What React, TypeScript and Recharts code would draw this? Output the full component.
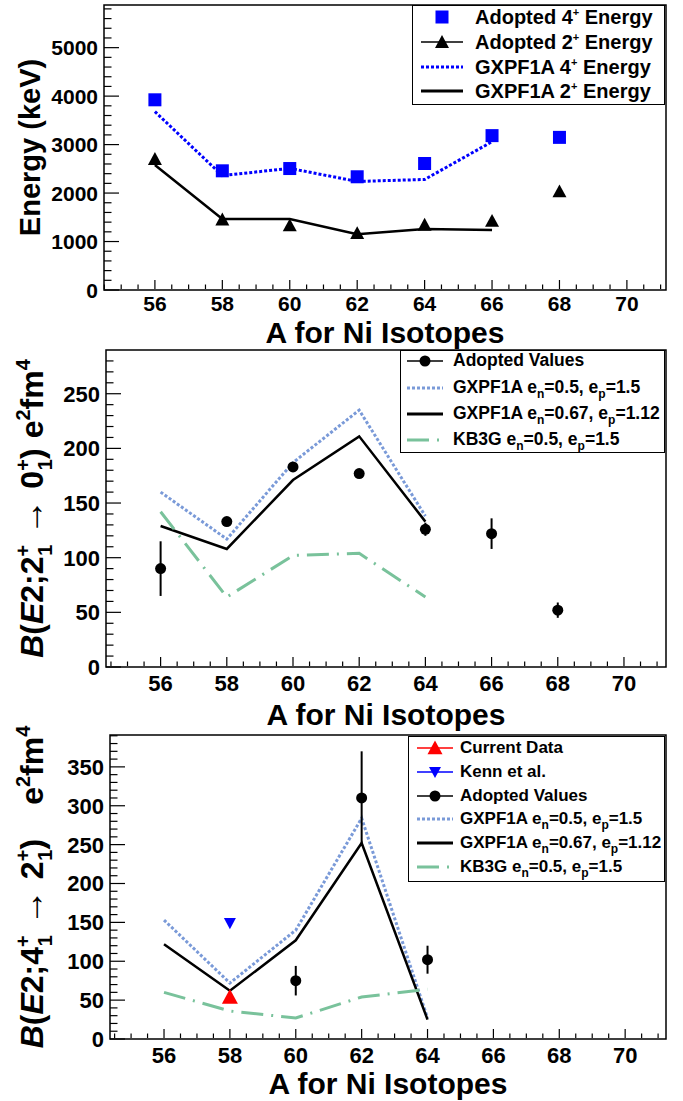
import React from 'react'
import {
  ComposedChart,
  Line,
  Scatter,
  XAxis,
  YAxis,
  ErrorBar,
  ReferenceArea,
  Label,
} from 'recharts'

const FONT = '"Liberation Sans", Arial, Helvetica, sans-serif'

// mass numbers
const A_ALL = [56, 58, 60, 62, 64, 66, 68]
const A_CALC = [56, 58, 60, 62, 64]
const A_CALC_E = [56, 58, 60, 62, 64, 66]
const X_LABELS = [56, 58, 60, 62, 64, 66, 68, 70]

// panel 1: level energies (keV)
const ADOPTED_4 = [3924, 2459, 2506, 2336, 2610, 3185, 3149]
const ADOPTED_2 = [2701, 1454, 1333, 1173, 1346, 1425, 2033]
const GXPF1A_4 = [3680, 2360, 2510, 2240, 2280, 3060]
const GXPF1A_2 = [2580, 1465, 1465, 1150, 1260, 1240]
const E_LABELS = [0, 1000, 2000, 3000, 4000, 5000]

// panel 2: B(E2; 2+ -> 0+)
const BE2_20 = [90, 133, 183, 177, 126, 122, 52]
const BE2_20_ERR = [25, 4, 4, 4, 6, 14, 7]
const GX05_20 = [160, 117, 187, 235, 138]
const GX067_20 = [129, 108, 171, 211, 133]
const KB3G_20 = [142, 64, 102, 104, 64]
const B20_LABELS = [0, 50, 100, 150, 200, 250]

// panel 3: B(E2; 4+ -> 2+)
const A_CURRENT = [58]
const CURRENT_42 = [54]
const A_KENN = [58]
const KENN_42 = [149]
const A_ADOPTED_42 = [60, 62, 64]
const ADOPTED_42 = [75, 310, 102]
const ADOPTED_42_ERR = [19, 60, 18]
const GX05_42 = [153, 72, 140, 284, 27]
const GX067_42 = [122, 62, 127, 252, 25]
const KB3G_42 = [60, 36, 27, 54, 64]
const B42_LABELS = [0, 50, 100, 150, 200, 250, 300, 350]

const LIGHT_BLUE = '#7a9ad8'
const GREEN = '#79c29b'
const KB_DASH = '22 8 2 8'

function zip(xs: number[], ys: number[], errs?: number[]) {
  return xs.map((a, i) => ({ a, v: ys[i], err: errs ? errs[i] : 0 }))
}

function steps(from: number, to: number, step: number) {
  const out: number[] = []
  for (let v = from; v <= to + 1e-9; v += step) out.push(Math.round(v * 100) / 100)
  return out
}

const X_TICKS = steps(54.5, 71, 0.5)

function makeXTick(fontSize: number, dy: number) {
  return (props: any) => {
    const { x, y, payload } = props
    const major = X_LABELS.includes(payload.value)
    return (
      <g>
        <line x1={x} x2={x} y1={y - 1} y2={y - 1 - (major ? 9 : 4.5)} stroke="#000" strokeWidth={1.2} />
        {major && (
          <text x={x} y={y + dy} textAnchor="middle" fontSize={fontSize} fontWeight="bold" fontFamily={FONT} fill="#000">
            {payload.value}
          </text>
        )}
      </g>
    )
  }
}

function makeYTick(labels: number[], fontSize: number) {
  return (props: any) => {
    const { x, y, payload } = props
    const major = labels.includes(payload.value)
    return (
      <g>
        <line x1={x} x2={x + (major ? 15 : 7.5)} y1={y} y2={y} stroke="#000" strokeWidth={1.2} />
        {major && (
          <text x={x - 6} y={y} dy="0.36em" textAnchor="end" fontSize={fontSize} fontWeight="bold" fontFamily={FONT} fill="#000">
            {payload.value}
          </text>
        )}
      </g>
    )
  }
}

function xTitle(dy: number) {
  return (p: any) => (
    <text
      x={p.viewBox.x + p.viewBox.width / 2}
      y={p.viewBox.y + dy}
      textAnchor="middle"
      fontSize={30}
      fontWeight="bold"
      fontFamily={FONT}
      fill="#000"
    >
      A for Ni Isotopes
    </text>
  )
}

function energyTitle(off: number) {
  return (p: any) => {
    const cx = p.viewBox.x - off
    const cy = p.viewBox.y + p.viewBox.height / 2
    return (
      <text x={cx} y={cy} transform={`rotate(-90 ${cx} ${cy})`} textAnchor="middle" fontSize={29} fontWeight="bold" fontFamily={FONT} fill="#000">
        Energy (keV)
      </text>
    )
  }
}

function be2Title(off: number, ji: string, jf: string, gap: number) {
  return (p: any) => {
    const cx = p.viewBox.x - off
    const cy = p.viewBox.y + p.viewBox.height / 2
    const S = 20
    return (
      <text
        x={cx}
        y={cy}
        transform={`rotate(-90 ${cx} ${cy})`}
        textAnchor="middle"
        fontSize={32}
        fontWeight="bold"
        fontFamily={FONT}
        fill="#000"
        style={{ whiteSpace: 'pre' }}
      >
        <tspan fontStyle="italic">B</tspan>
        <tspan>(</tspan>
        <tspan fontStyle="italic">E</tspan>
        <tspan>2;{ji}</tspan>
        <tspan fontSize={S} dy={-13}>+</tspan>
        <tspan fontSize={S} dx={-11} dy={22}>1</tspan>
        <tspan dy={-9} fontWeight="normal" fontSize={36}> → </tspan>
        <tspan>{jf}</tspan>
        <tspan fontSize={S} dy={-13}>+</tspan>
        <tspan fontSize={S} dx={-11} dy={22}>1</tspan>
        <tspan dy={-9}>)</tspan>
        <tspan dx={gap}>e</tspan>
        <tspan fontSize={S} dy={-13}>2</tspan>
        <tspan dy={13}>fm</tspan>
        <tspan fontSize={S} dy={-13}>4</tspan>
      </text>
    )
  }
}

const square = (color: string, s: number) => (p: any) => (
  <rect x={p.cx - s / 2} y={p.cy - s / 2} width={s} height={s} fill={color} />
)
const triUp = (color: string, w: number) => (p: any) => (
  <polygon
    points={`${p.cx - w / 2},${p.cy + w * 0.42} ${p.cx + w / 2},${p.cy + w * 0.42} ${p.cx},${p.cy - w * 0.5}`}
    fill={color}
  />
)
const triDown = (color: string, w: number) => (p: any) => (
  <polygon
    points={`${p.cx - w / 2},${p.cy - w * 0.42} ${p.cx + w / 2},${p.cy - w * 0.42} ${p.cx},${p.cy + w * 0.5}`}
    fill={color}
  />
)
const circle = (color: string, r: number) => (p: any) => <circle cx={p.cx} cy={p.cy} r={r} fill={color} />

type Row = { cy: number; sym: React.ReactNode; label: React.ReactNode }

function LegendBox(props: {
  box: [number, number, number, number]
  symX: number
  symW: number
  textX: number
  font: number
  rows: Row[]
}) {
  const { box, symX, symW, textX, font, rows } = props
  return (
    <div
      style={{
        position: 'absolute',
        left: box[0],
        top: box[1],
        width: box[2],
        height: box[3],
        border: '1.5px solid #000',
        boxSizing: 'border-box',
        background: '#fff',
        fontFamily: FONT,
        fontWeight: 'bold',
        fontSize: font,
        color: '#000',
      }}
    >
      {rows.map((r, i) => (
        <React.Fragment key={i}>
          <svg style={{ position: 'absolute', left: symX, top: r.cy - 11.5 }} width={symW} height={20}>
            {r.sym}
          </svg>
          <div style={{ position: 'absolute', left: textX, top: r.cy - 1.5 - 0.49 * font, lineHeight: `${font}px`, height: font, whiteSpace: 'nowrap' }}>
            {r.label}
          </div>
        </React.Fragment>
      ))}
    </div>
  )
}

const lineSym = (w: number, color: string, sw: number, dash?: string) => (
  <line x1={0} x2={w} y1={10} y2={10} stroke={color} strokeWidth={sw} strokeDasharray={dash} />
)

const sup = (t: string, size = 11) => <span style={{ fontSize: size, position: 'relative', top: -8 }}>{t}</span>
const sub = (t: string) => <span style={{ fontSize: 12, position: 'relative', top: 5 }}>{t}</span>

function EnergyPanel() {
  const xd: [number, number] = [54.49, 71.16]
  const yd: [number, number] = [0, 5880]
  return (
    <ComposedChart width={683} height={355} margin={{ top: 5, right: 17, bottom: 64, left: 103 }}>
      <XAxis dataKey="a" type="number" domain={xd} allowDataOverflow ticks={X_TICKS} interval={0} tick={makeXTick(21, 21)} tickLine={false} axisLine={false} tickSize={0} tickMargin={0} height={1}>
        <Label content={xTitle(53)} />
      </XAxis>
      <YAxis type="number" domain={yd} allowDataOverflow ticks={steps(0, 5800, 200)} interval={0} tick={makeYTick(E_LABELS, 21)} tickLine={false} axisLine={false} tickSize={0} tickMargin={0} width={1}>
        <Label content={energyTitle(63)} />
      </YAxis>
      <ReferenceArea x1={xd[0]} x2={xd[1]} y1={yd[0]} y2={yd[1]} fill="none" stroke="#000" strokeWidth={1.5} fillOpacity={0} />
      <Line data={zip(A_CALC_E, GXPF1A_4)} dataKey="v" stroke="#0000ff" strokeWidth={3} strokeDasharray="3 2" dot={false} isAnimationActive={false} />
      <Line data={zip(A_CALC_E, GXPF1A_2)} dataKey="v" stroke="#000" strokeWidth={2.5} dot={false} isAnimationActive={false} />
      <Scatter data={zip(A_ALL, ADOPTED_4)} dataKey="v" shape={square('#0000ff', 13)} isAnimationActive={false} />
      <Scatter data={zip(A_ALL, ADOPTED_2)} dataKey="v" shape={triUp('#000', 14)} isAnimationActive={false} />
    </ComposedChart>
  )
}

function B20Panel() {
  const xd: [number, number] = [54.35, 71.27]
  const yd: [number, number] = [0, 290]
  return (
    <ComposedChart width={683} height={390} margin={{ top: 5, right: 17, bottom: 67, left: 105 }}>
      <XAxis dataKey="a" type="number" domain={xd} allowDataOverflow ticks={X_TICKS} interval={0} tick={makeXTick(22, 24)} tickLine={false} axisLine={false} tickSize={0} tickMargin={0} height={1}>
        <Label content={xTitle(58)} />
      </XAxis>
      <YAxis type="number" domain={yd} allowDataOverflow ticks={steps(0, 280, 10)} interval={0} tick={makeYTick(B20_LABELS, 22)} tickLine={false} axisLine={false} tickSize={0} tickMargin={0} width={1}>
        <Label content={be2Title(62, '2', '0', 10)} />
      </YAxis>
      <ReferenceArea x1={xd[0]} x2={xd[1]} y1={yd[0]} y2={yd[1]} fill="none" stroke="#000" strokeWidth={1.5} fillOpacity={0} />
      <Line data={zip(A_CALC, GX05_20)} dataKey="v" stroke={LIGHT_BLUE} strokeWidth={3} strokeDasharray="3 2" dot={false} isAnimationActive={false} />
      <Line data={zip(A_CALC, GX067_20)} dataKey="v" stroke="#000" strokeWidth={2.5} dot={false} isAnimationActive={false} />
      <Line data={zip(A_CALC, KB3G_20)} dataKey="v" stroke={GREEN} strokeWidth={3} strokeDasharray={KB_DASH} dot={false} isAnimationActive={false} />
      <Scatter data={zip(A_ALL, BE2_20, BE2_20_ERR)} dataKey="v" shape={circle('#000', 5.5)} isAnimationActive={false}>
        <ErrorBar dataKey="err" direction="y" width={0} stroke="#000" strokeWidth={2} />
      </Scatter>
    </ComposedChart>
  )
}

function B42Panel() {
  const xd: [number, number] = [54.36, 71.24]
  const yd: [number, number] = [0, 391]
  return (
    <ComposedChart width={683} height={381} margin={{ top: 15, right: 17, bottom: 61, left: 109 }}>
      <XAxis dataKey="a" type="number" domain={xd} allowDataOverflow ticks={X_TICKS} interval={0} tick={makeXTick(22, 24)} tickLine={false} axisLine={false} tickSize={0} tickMargin={0} height={1}>
        <Label content={xTitle(55)} />
      </XAxis>
      <YAxis type="number" domain={yd} allowDataOverflow ticks={steps(0, 390, 10)} interval={0} tick={makeYTick(B42_LABELS, 22)} tickLine={false} axisLine={false} tickSize={0} tickMargin={0} width={1}>
        <Label content={be2Title(66, '4', '2', 34)} />
      </YAxis>
      <ReferenceArea x1={xd[0]} x2={xd[1]} y1={yd[0]} y2={yd[1]} fill="none" stroke="#000" strokeWidth={1.5} fillOpacity={0} />
      <Line data={zip(A_CALC, GX05_42)} dataKey="v" stroke={LIGHT_BLUE} strokeWidth={3} strokeDasharray="3 2" dot={false} isAnimationActive={false} />
      <Line data={zip(A_CALC, GX067_42)} dataKey="v" stroke="#000" strokeWidth={2.5} dot={false} isAnimationActive={false} />
      <Line data={zip(A_CALC, KB3G_42)} dataKey="v" stroke={GREEN} strokeWidth={3} strokeDasharray={KB_DASH} dot={false} isAnimationActive={false} />
      <Scatter data={zip(A_ADOPTED_42, ADOPTED_42, ADOPTED_42_ERR)} dataKey="v" shape={circle('#000', 5.5)} isAnimationActive={false}>
        <ErrorBar dataKey="err" direction="y" width={0} stroke="#000" strokeWidth={2} />
      </Scatter>
      <Scatter data={zip(A_KENN, KENN_42)} dataKey="v" shape={triDown('#0000ff', 12)} isAnimationActive={false} />
      <Scatter data={zip(A_CURRENT, CURRENT_42)} dataKey="v" shape={triUp('#ff0000', 16)} isAnimationActive={false} />
    </ComposedChart>
  )
}

export default function App() {
  const W1 = 42
  const W2 = 36
  const gxRows = (w: number, y0: number, dy: number): Row[] => [
    { cy: y0, sym: lineSym(w, LIGHT_BLUE, 3, '3 2'), label: <>GXPF1A e{sub('n')}=0.5, e{sub('p')}=1.5</> },
    { cy: y0 + dy, sym: lineSym(w, '#000', 3), label: <>GXPF1A e{sub('n')}=0.67, e{sub('p')}=1.12</> },
    { cy: y0 + 2 * dy, sym: lineSym(w, GREEN, 3, KB_DASH), label: <>KB3G e{sub('n')}=0.5, e{sub('p')}=1.5</> },
  ]
  return (
    <div style={{ position: 'absolute', left: 0, top: 0, width: 683, height: 1101, background: '#fff', overflow: 'hidden' }}>
      <div style={{ position: 'absolute', left: 0, top: 0 }}>
        <EnergyPanel />
      </div>
      <div style={{ position: 'absolute', left: 0, top: 345 }}>
        <B20Panel />
      </div>
      <div style={{ position: 'absolute', left: 0, top: 720 }}>
        <B42Panel />
      </div>

      <LegendBox
        box={[412, 5, 253, 100]}
        symX={8}
        symW={W1}
        textX={62}
        font={20}
        rows={[
          { cy: 12, sym: square('#0000ff', 13)({ cx: W1 / 2, cy: 10 }), label: <>Adopted 4{sup('+')} Energy</> },
          { cy: 37, sym: <>{lineSym(W1, '#000', 1.5)}{triUp('#000', 14)({ cx: W1 / 2, cy: 10 })}</>, label: <>Adopted 2{sup('+')} Energy</> },
          { cy: 62, sym: lineSym(W1, '#0000ff', 3, '3 2'), label: <>GXPF1A 4{sup('+')} Energy</> },
          { cy: 86, sym: lineSym(W1, '#000', 3), label: <>GXPF1A 2{sup('+')} Energy</> },
        ]}
      />

      <LegendBox
        box={[400, 350, 265, 103]}
        symX={6}
        symW={W2}
        textX={52}
        font={17.5}
        rows={[
          { cy: 11, sym: <>{lineSym(W2, '#000', 1.5)}{circle('#000', 5.5)({ cx: W2 / 2, cy: 10 })}</>, label: <>Adopted Values</> },
          ...gxRows(W2, 38, 26),
        ]}
      />

      <LegendBox
        box={[408, 736, 257, 146]}
        symX={8}
        symW={W2}
        textX={51}
        font={17}
        rows={[
          { cy: 12, sym: <>{lineSym(W2, '#ff0000', 1.5)}{triUp('#ff0000', 15)({ cx: W2 / 2, cy: 10 })}</>, label: <>Current Data</> },
          { cy: 36, sym: <>{lineSym(W2, '#0000ff', 1.5)}{triDown('#0000ff', 12)({ cx: W2 / 2, cy: 10 })}</>, label: <>Kenn et al.</> },
          { cy: 60, sym: <>{lineSym(W2, '#000', 1.5)}{circle('#000', 5.5)({ cx: W2 / 2, cy: 10 })}</>, label: <>Adopted Values</> },
          ...gxRows(W2, 83, 24),
        ]}
      />
    </div>
  )
}
